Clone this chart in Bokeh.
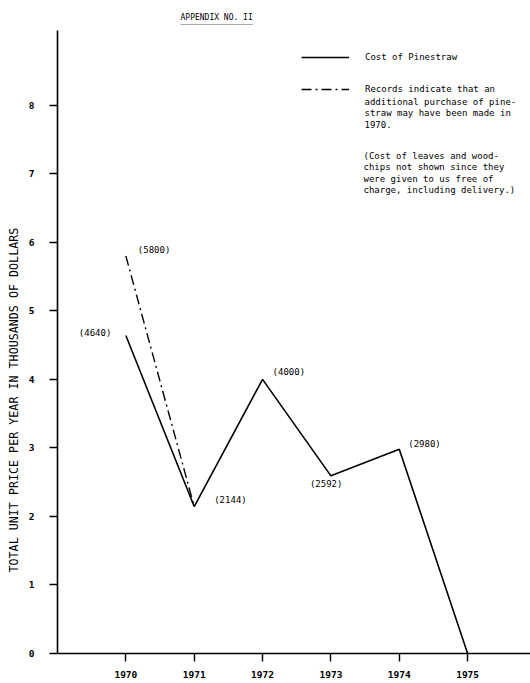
import math
from bokeh.plotting import figure
from bokeh.models import ColumnDataSource, FixedTicker, Label, Legend, LegendItem, Range1d, Title
from bokeh.core.properties import value
from bokeh.embed import file_html
from bokeh.resources import INLINE

# ---- data ----
years = [1970, 1971, 1972, 1973, 1974, 1975]
cost = [4.640, 2.144, 4.000, 2.592, 2.980, 0.0]
alt_years = [1970, 1971]
alt_cost = [5.800, 2.144]
label_years = [1970, 1971, 1972, 1973, 1974, 1970]
label_values = [4.640, 2.144, 4.000, 2.592, 2.980, 5.800]
point_labels = ["(4640)", "(2144)", "(4000)", "(2592)", "(2980)", "(5800)"]
y_ticks = [0, 1, 2, 3, 4, 5, 6, 7, 8]
x_ticks = [1970, 1971, 1972, 1973, 1974, 1975]
title_text = "APPENDIX NO. II"
y_title = "TOTAL UNIT PRICE PER YEAR IN THOUSANDS OF DOLLARS"
legend_solid = "Cost of Pinestraw"
legend_dash = "Records indicate that an"
legend_dash_more = "additional purchase of pine-\nstraw may have been made in\n1970."
note_text = "(Cost of leaves and wood-\n chips not shown since they\n were given to us free of\n charge, including delivery.)"

# ---- styles / positions ----
label_dx = [-47, 20, 10, -21, 9, 12]
label_dy = [-2, -7, -7, 8, -5, -6]
FONT = "DejaVu Sans Mono"

p = figure(width=530, height=683, output_backend="svg", toolbar_location=None,
           x_range=Range1d(1969, 1975.92), y_range=Range1d(0, 9.09),
           min_border_left=57, min_border_right=0, min_border_top=30, min_border_bottom=30)
p.outline_line_color = None
p.xgrid.visible = False
p.ygrid.visible = False

for ax in (p.xaxis[0], p.yaxis[0]):
    ax.axis_line_width = 1.6
    ax.axis_line_color = "black"
    ax.major_tick_line_width = 1.4
    ax.major_tick_line_color = "black"
    ax.major_tick_in = 0
    ax.major_tick_out = 8
    ax.minor_tick_line_color = None
    ax.major_label_text_font = FONT
    ax.major_label_text_font_style = "bold"
    ax.major_label_text_font_size = "9.5px"
    ax.major_label_text_color = "black"

p.xaxis.ticker = FixedTicker(ticks=x_ticks)
p.yaxis.ticker = FixedTicker(ticks=y_ticks)
p.xaxis.major_label_standoff = 9
p.yaxis.major_label_standoff = 15

solid = p.line(years, cost, line_color="black", line_width=1.6)
dash = p.line(alt_years, alt_cost, line_color="black", line_width=1.4, line_dash="10 4 2 4")

src = ColumnDataSource(dict(x=label_years, y=label_values, t=point_labels, dx=label_dx, dy=label_dy))
p.text(x="x", y="y", text="t", x_offset="dx", y_offset="dy", source=src,
       text_font=value(FONT), text_font_size="9px", text_align="left",
       text_baseline="middle", text_color="black")

legend = Legend(items=[LegendItem(label=legend_solid, renderers=[solid]),
                       LegendItem(label=legend_dash, renderers=[dash])],
                location=(244, 558), orientation="vertical",
                label_text_font=FONT, label_text_font_size="9px",
                label_text_color="black",
                glyph_width=48, glyph_height=12, label_standoff=16,
                spacing=20, padding=0, margin=0,
                border_line_alpha=0, background_fill_alpha=0)
p.add_layout(legend, "center")

p.add_layout(Label(x=307, y=557, x_units="screen", y_units="screen", text=legend_dash_more,
                   text_font=FONT, text_font_size="9px", text_baseline="top",
                   text_line_height=1.15, text_color="black"))

p.add_layout(Label(x=306, y=503, x_units="screen", y_units="screen", text=note_text,
                   text_font=FONT, text_font_size="9px", text_baseline="top",
                   text_line_height=1.15, text_color="black"))

p.add_layout(Title(text=y_title, align="left", offset=81, standoff=9,
                   text_font=FONT, text_font_size="11.7px", text_font_style="normal",
                   text_color="black"), "left")

# heading text with an underline drawn as a second, tightly spaced line
p.title.text = title_text + "\n" + "_" * len(title_text)
p.title.align = "left"
p.title.offset = 123
p.title.standoff = 10
p.title.text_line_height = 0.35
p.title.text_font = FONT
p.title.text_font_size = "8px"
p.title.text_font_style = "normal"
p.title.text_color = "black"

open("out.html", "w").write(file_html(p, INLINE))
